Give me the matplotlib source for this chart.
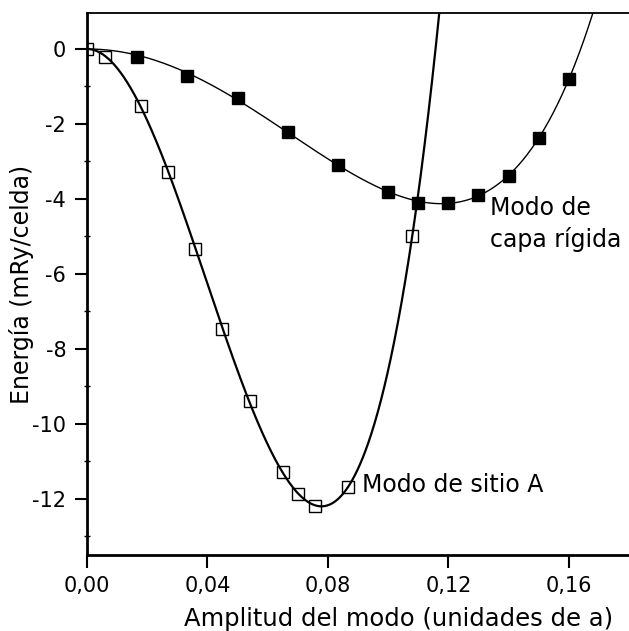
import numpy as np
import matplotlib
matplotlib.use('Agg')
import matplotlib.pyplot as plt
from matplotlib.ticker import FuncFormatter, MultipleLocator

## Datos
# Modo de capa rigida (cuadrados llenos)
x_capa = [0.0167, 0.0333, 0.050, 0.0667, 0.0833, 0.100, 0.110, 0.120, 0.130, 0.140, 0.150, 0.160]
e_capa = [-0.21, -0.72, -1.31, -2.22, -3.09, -3.81, -4.10, -4.10, -3.89, -3.39, -2.38, -0.81]

# Modo de sitio A (cuadrados vacios)
x_sitio = [0.0, 0.006, 0.018, 0.027, 0.036, 0.045, 0.054, 0.065, 0.070, 0.0757, 0.0866, 0.108]
e_sitio = [0.0, -0.22, -1.51, -3.29, -5.34, -7.47, -9.38, -11.28, -11.87, -12.20, -11.68, -5.00]

xticks = [0.00, 0.04, 0.08, 0.12, 0.16]
yticks = [0, -2, -4, -6, -8, -10, -12]
#############################

## Ajuste polinomial (sin termino constante ni lineal)
def ajuste(x, e, potencias):
	x = np.asarray(x)
	A = np.column_stack([x**p for p in potencias])
	c, *_ = np.linalg.lstsq(A, np.asarray(e), rcond=None)
	return lambda xx: sum(ci * xx**p for ci, p in zip(c, potencias))

f_capa = ajuste([0.0] + x_capa, [0.0] + e_capa, [2, 4, 6, 8])
f_sitio = ajuste(x_sitio, e_sitio, [2, 3, 4, 5, 6])
#############################

plt.rcParams['axes.unicode_minus'] = False
plt.rcParams['font.family'] = 'DejaVu Sans'

fig = plt.figure(figsize=(6.29, 6.31), dpi=100)
ax = fig.add_axes([0.1383, 0.1204, 0.8617, 0.859])

xx = np.linspace(0, 0.18, 1000)
ax.plot(xx, f_capa(xx), color='black', lw=1.0)
ax.plot(xx, f_sitio(xx), color='black', lw=1.6)
ax.plot(x_capa, e_capa, 's', color='black', ms=9, mfc='black', mew=1)
ax.plot(x_sitio, e_sitio, 's', color='black', ms=8.5, mfc='none', mew=1)

ax.text(0.1337, -4.43, 'Modo de', fontsize=17, ha='left', va='baseline')
ax.text(0.1337, -5.28, 'capa rígida', fontsize=17, ha='left', va='baseline')
ax.text(0.0912, -11.81, 'Modo de sitio A', fontsize=17, ha='left', va='baseline')

ax.set_xlim(0, 0.18)
ax.set_ylim(-13.5, 0.96)
ax.set_xticks(xticks)
ax.set_yticks(yticks)
ax.yaxis.set_minor_locator(MultipleLocator(1))
ax.xaxis.set_major_formatter(FuncFormatter(lambda v, p: ('%.2f' % v).replace('.', ',')))
ax.yaxis.set_major_formatter(FuncFormatter(lambda v, p: '%d' % v))
ax.tick_params(axis='both', which='major', direction='out', length=9, width=1.5, labelsize=15, pad=6)
ax.tick_params(axis='y', which='minor', direction='inout', length=4, width=1)

ax.spines['right'].set_visible(False)
ax.spines['left'].set_linewidth(2)
ax.spines['bottom'].set_linewidth(2)
ax.spines['top'].set_linewidth(1.3)

ax.set_xlabel('Amplitud del modo (unidades de a)', fontsize=17.5)
ax.xaxis.set_label_coords(0.574, -0.095)
ax.set_ylabel('Energía (mRy/celda)', fontsize=17)
ax.yaxis.set_label_coords(-0.098, 0.5)

fig.savefig('out.png', dpi=100)
